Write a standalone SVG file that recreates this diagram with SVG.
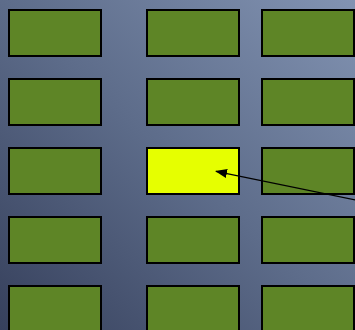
<svg xmlns="http://www.w3.org/2000/svg" width="355" height="330" viewBox="0 0 355 330">
<defs>
<linearGradient id="bg" x1="0" y1="1" x2="1" y2="0">
<stop offset="0" stop-color="#36405c"/>
<stop offset="0.5" stop-color="#5d6c8a"/>
<stop offset="1" stop-color="#8293b2"/>
</linearGradient>
<marker id="ah" markerWidth="12" markerHeight="9" refX="11" refY="4.5" orient="auto" markerUnits="userSpaceOnUse">
<path d="M0,0 L12,4.5 L0,9 Z" fill="#000"/>
</marker>
<style>
.c{fill:#5e8526;stroke:#000;stroke-width:2}
.sel{fill:#e6ff00;stroke:#000;stroke-width:2}
.conn{stroke:#000;stroke-width:1.2;fill:none}
</style>
</defs>
<rect width="355" height="330" fill="url(#bg)"/>
<g id="r1c1"><rect class="c" x="9" y="10" width="92" height="46"/></g>
<g id="r1c2"><rect class="c" x="147" y="10" width="92" height="46"/></g>
<g id="r1c3"><rect class="c" x="262" y="10" width="92" height="46"/></g>
<g id="r2c1"><rect class="c" x="9" y="79" width="92" height="46"/></g>
<g id="r2c2"><rect class="c" x="147" y="79" width="92" height="46"/></g>
<g id="r2c3"><rect class="c" x="262" y="79" width="92" height="46"/></g>
<g id="r3c1"><rect class="c" x="9" y="148" width="92" height="46"/></g>
<g id="r3c2"><rect class="sel" x="147" y="148" width="92" height="46"/></g>
<g id="r3c3"><rect class="c" x="262" y="148" width="92" height="46"/></g>
<g id="r4c1"><rect class="c" x="9" y="217" width="92" height="46"/></g>
<g id="r4c2"><rect class="c" x="147" y="217" width="92" height="46"/></g>
<g id="r4c3"><rect class="c" x="262" y="217" width="92" height="46"/></g>
<g id="r5c1"><rect class="c" x="9" y="286" width="92" height="46"/></g>
<g id="r5c2"><rect class="c" x="147" y="286" width="92" height="46"/></g>
<g id="r5c3"><rect class="c" x="262" y="286" width="92" height="46"/></g>
<g id="connectors">
<line class="conn" x1="356" y1="200" x2="216" y2="171.3" marker-end="url(#ah)"/>
</g>
</svg>
